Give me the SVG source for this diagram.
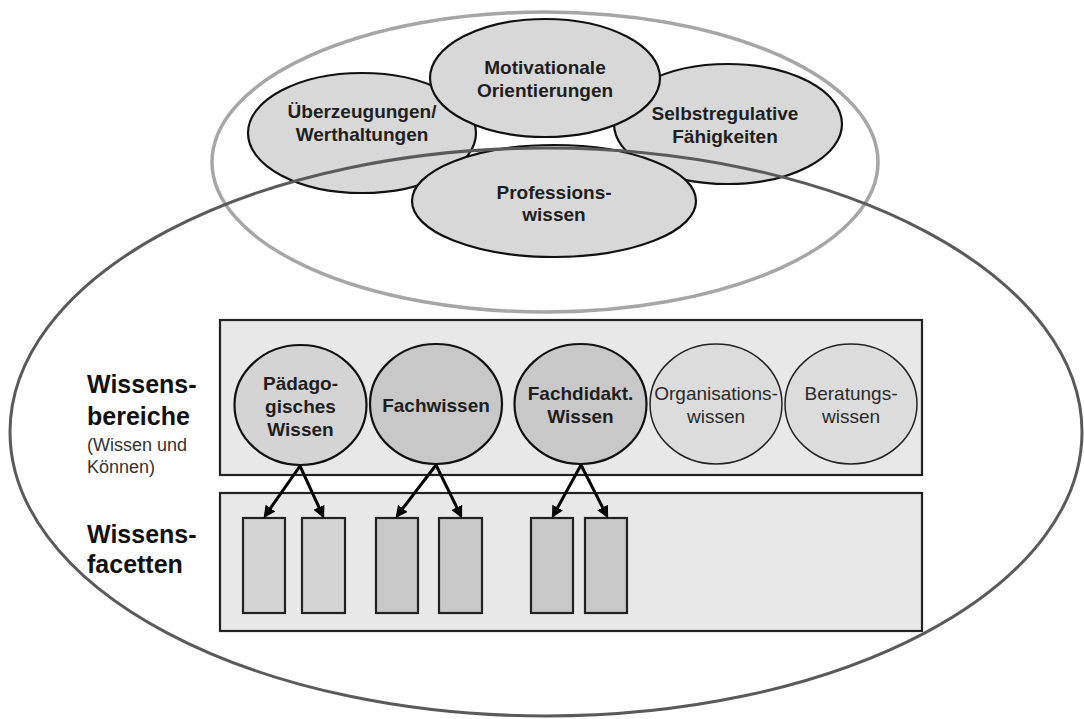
<svg xmlns="http://www.w3.org/2000/svg" width="1084" height="719" viewBox="0 0 1084 719">
<defs>
<style>
.bold{font-family:"Liberation Sans",Arial,sans-serif;font-weight:bold;font-size:19px;fill:#1e1e1e;text-anchor:middle}
.reg{font-family:"Liberation Sans",Arial,sans-serif;font-size:19px;fill:#2a2a2a;text-anchor:middle}
.top{fill:#d8d8d8;stroke:#111;stroke-width:2.2}
.band{fill:#e8e8e8;stroke:#222;stroke-width:2.2}
.facet-a{fill:#d4d4d4;stroke:#222;stroke-width:2.2}
.facet-b{fill:#c8c8c8;stroke:#222;stroke-width:2.2}
.arrow{stroke:#000;stroke-width:3;fill:none;marker-end:url(#ah)}
.lbl{font-family:"Liberation Sans",Arial,sans-serif;font-weight:bold;font-size:25px;fill:#111}
.sub{font-family:"Liberation Sans",Arial,sans-serif;font-size:18px;fill:#333}
</style>
<marker id="ah" markerWidth="4" markerHeight="4" refX="3.2" refY="2" orient="auto" markerUnits="strokeWidth">
<path d="M0,0 L4,2 L0,4 Z" fill="#000"/>
</marker>
</defs>
<rect width="1084" height="719" fill="#fff"/>
<g id="outer-light">
<ellipse cx="545" cy="162" rx="333" ry="150" fill="none" stroke="#a6a6a6" stroke-width="3.5"/>
</g>
<g id="ueberzeugungen">
<ellipse class="top" cx="362" cy="133" rx="114" ry="60"/>
<text class="bold" x="362" y="118">Überzeugungen/</text>
<text class="bold" x="362" y="141">Werthaltungen</text>
</g>
<g id="selbstregulative">
<ellipse class="top" cx="728" cy="124" rx="114" ry="60"/>
<text class="bold" x="725" y="120">Selbstregulative</text>
<text class="bold" x="725" y="143">Fähigkeiten</text>
</g>
<g id="motivationale">
<ellipse class="top" cx="545" cy="78" rx="115" ry="59"/>
<text class="bold" x="545" y="74">Motivationale</text>
<text class="bold" x="545" y="97">Orientierungen</text>
</g>
<g id="professionswissen">
<ellipse class="top" cx="554" cy="201" rx="142" ry="56"/>
<text class="bold" x="554" y="199">Professions-</text>
<text class="bold" x="554" y="221">wissen</text>
</g>
<g id="outer-dark">
<ellipse cx="546" cy="432" rx="536" ry="284" fill="none" stroke="#5a5a5a" stroke-width="3"/>
</g>
<g id="labels">
<text class="lbl" x="87" y="393">Wissens-</text>
<text class="lbl" x="87" y="425">bereiche</text>
<text class="sub" x="87" y="451">(Wissen und</text>
<text class="sub" x="87" y="473">Können)</text>
<text class="lbl" x="87" y="543">Wissens-</text>
<text class="lbl" x="87" y="573">facetten</text>
</g>
<g id="wissensbereiche">
<rect class="band" x="220" y="320" width="702" height="155"/>
</g>
<g id="paedagogisches-wissen">
<ellipse cx="300.5" cy="405" rx="66" ry="60" fill="#d4d4d4" stroke="#111" stroke-width="2.2"/>
<text class="bold" x="300.5" y="390">Pädago-</text>
<text class="bold" x="300.5" y="413">gisches</text>
<text class="bold" x="300.5" y="436">Wissen</text>
</g>
<g id="fachwissen">
<ellipse cx="436" cy="404" rx="66" ry="60" fill="#c8c8c8" stroke="#111" stroke-width="2.2"/>
<text class="bold" x="436" y="412">Fachwissen</text>
</g>
<g id="fachdidakt-wissen">
<ellipse cx="580.5" cy="404" rx="66" ry="60" fill="#c8c8c8" stroke="#111" stroke-width="2.2"/>
<text class="bold" x="580.5" y="400">Fachdidakt.</text>
<text class="bold" x="580.5" y="423">Wissen</text>
</g>
<g id="organisationswissen">
<ellipse cx="716" cy="404" rx="66" ry="60" fill="#dcdcdc" stroke="#222" stroke-width="1.5"/>
<text class="reg" x="716" y="400">Organisations-</text>
<text class="reg" x="716" y="423">wissen</text>
</g>
<g id="beratungswissen">
<ellipse cx="851" cy="404" rx="66" ry="60" fill="#dcdcdc" stroke="#222" stroke-width="1.5"/>
<text class="reg" x="851" y="400">Beratungs-</text>
<text class="reg" x="851" y="423">wissen</text>
</g>
<g id="wissensfacetten">
<rect class="band" x="220" y="493" width="702" height="138"/>
</g>
<g id="facets">
<rect id="facet-1" class="facet-a" x="243" y="518" width="42" height="95"/>
<rect id="facet-2" class="facet-a" x="302" y="518" width="43" height="95"/>
<rect id="facet-3" class="facet-b" x="376" y="518" width="42" height="95"/>
<rect id="facet-4" class="facet-b" x="439" y="518" width="43" height="95"/>
<rect id="facet-5" class="facet-b" x="531" y="518" width="42" height="95"/>
<rect id="facet-6" class="facet-b" x="585" y="518" width="42" height="95"/>
</g>
<g id="connectors">
<line class="arrow" x1="300" y1="466" x2="265" y2="516"/>
<line class="arrow" x1="300" y1="466" x2="323" y2="516"/>
<line class="arrow" x1="436" y1="465" x2="397" y2="516"/>
<line class="arrow" x1="436" y1="465" x2="461" y2="516"/>
<line class="arrow" x1="581" y1="465" x2="553" y2="516"/>
<line class="arrow" x1="581" y1="465" x2="607" y2="516"/>
</g>
</svg>
